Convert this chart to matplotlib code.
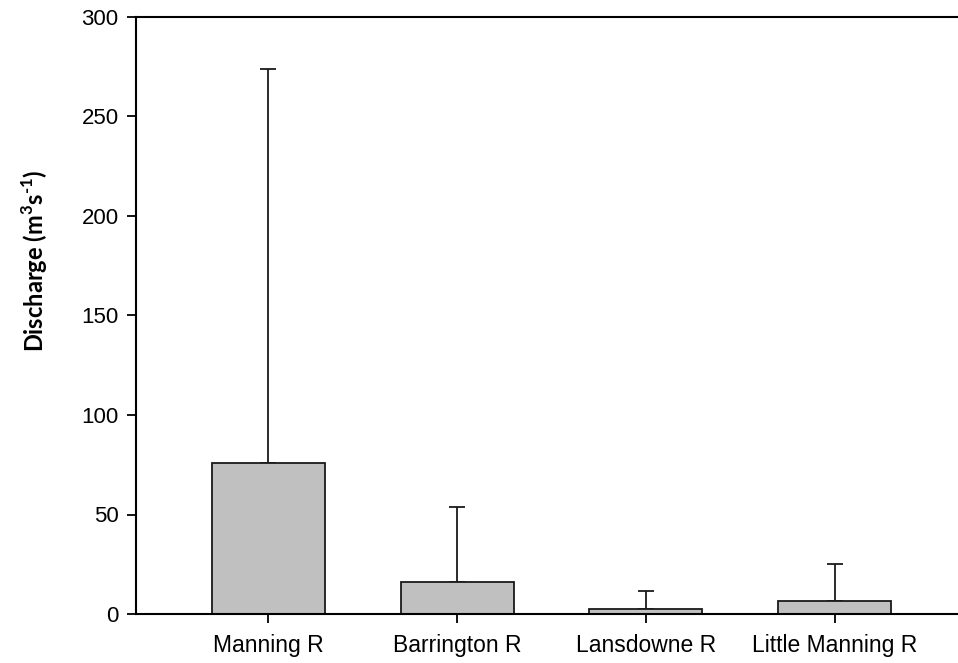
import matplotlib
matplotlib.use("Agg")
import matplotlib.pyplot as plt

categories = ["Manning R", "Barrington R", "Lansdowne R", "Little Manning R"]
means = [76, 16, 2.5, 6.6]
upper_err = [198, 38, 9.3, 18.6]
y_ticks = [0, 50, 100, 150, 200, 250, 300]

plt.rcParams['font.family'] = ['Liberation Sans', 'DejaVu Sans']
plt.rcParams['mathtext.fontset'] = 'custom'
plt.rcParams['mathtext.rm'] = 'Lato:bold'
plt.rcParams['mathtext.bf'] = 'Lato:bold'

fig = plt.figure(figsize=(9.58, 6.63), dpi=100)
ax = fig.add_axes([136/958, 49/663, (958-136)/958, (614-17)/663])

x = list(range(len(categories)))
ax.bar(x, means, width=0.6, color='#C0C0C0', edgecolor='#1a1a1a', linewidth=1.3, zorder=2)
ax.errorbar(x, means, yerr=[[0]*len(means), upper_err], fmt='none', ecolor='#1a1a1a',
            elinewidth=1.3, capsize=6.1, capthick=1.3, zorder=1)

ax.set_xlim(-0.702, 3.654)
ax.set_ylim(0, 300)
ax.set_yticks(y_ticks)
ax.set_xticks(x)
ax.set_xticklabels(categories)
ax.tick_params(axis='both', direction='out', length=6.5, width=1.3, labelsize=16, colors='black')
ax.tick_params(axis='x', pad=8, labelsize=16.5)
ax.tick_params(axis='y', pad=6)
for s in ['left', 'bottom', 'top']:
    ax.spines[s].set_linewidth(1.5)
ax.spines['right'].set_visible(False)

ax.set_ylabel(r'Discharge (m$^{3}$s$^{\text{-1}}$)', fontsize=17, fontfamily='Lato', fontweight='bold')
ax.yaxis.set_label_coords(-86/822, (614-261)/597)

fig.savefig('out.png', dpi=100)
